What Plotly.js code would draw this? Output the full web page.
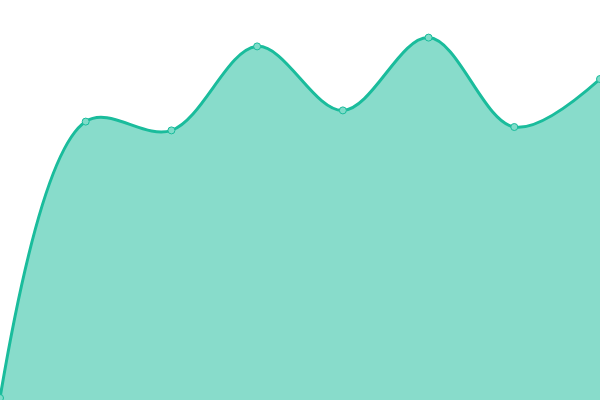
<!DOCTYPE html>
<html>
<head>
<meta charset="utf-8">
<script src="https://cdn.plot.ly/plotly-3.0.1.min.js"></script>
<style>
  html, body { margin: 0; padding: 0; background: #fff; }
  #chart { width: 600px; height: 400px; }
</style>
</head>
<body>
<div id="chart"></div>
<script>
// Values (y axis 0..100, no visible axes)
const xs = [0, 1, 2, 3, 4, 5, 6, 7];
const values = [0.5, 69.6, 67.4, 88.4, 72.4, 90.6, 68.25, 80.25];

const LINE_COLOR = '#1abc9c';
const FILL_COLOR = 'rgba(26, 188, 156, 0.52)';

const traces = [{
  x: xs,
  y: values,
  type: 'scatter',
  mode: 'lines+markers',
  fill: 'tozeroy',
  fillcolor: FILL_COLOR,
  line: { color: LINE_COLOR, width: 3, shape: 'spline', smoothing: 1 },
  marker: { size: 7, color: '#7fdcc9', line: { color: LINE_COLOR, width: 1 } },
  cliponaxis: false,
  hoverinfo: 'skip',
}];

Plotly.newPlot('chart', traces, {
  width: 600,
  height: 400,
  margin: { t: 0, l: 0, r: 0, b: 0 },
  paper_bgcolor: '#fff',
  plot_bgcolor: '#fff',
  showlegend: false,
  xaxis: { range: [0, 7], visible: false, fixedrange: true },
  yaxis: { range: [0, 100], visible: false, fixedrange: true },
}, { displayModeBar: false, staticPlot: true });
</script>
</body>
</html>
